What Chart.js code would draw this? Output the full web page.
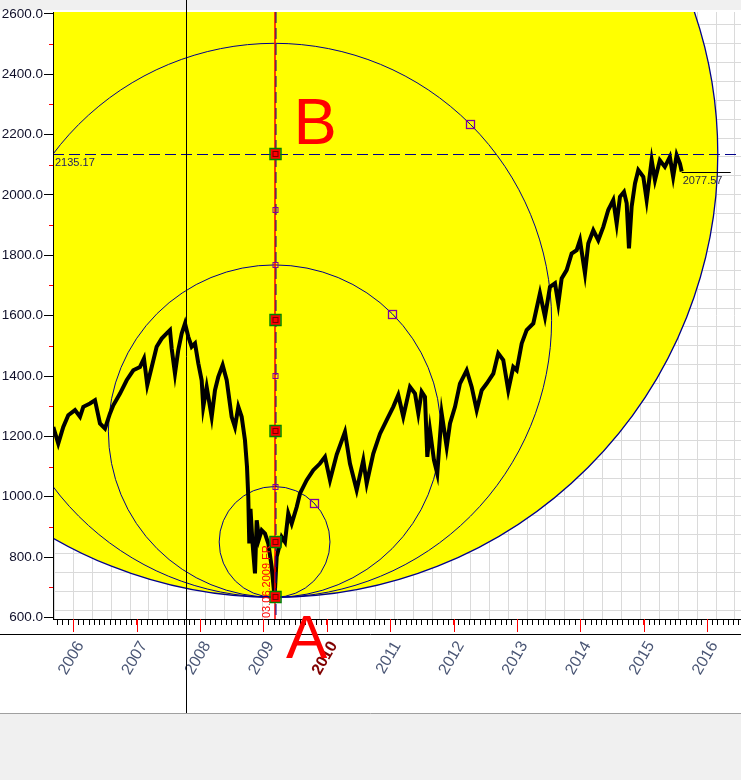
<!DOCTYPE html>
<html>
<head>
<meta charset="utf-8">
<title>S&P 500 circles</title>
<script src="https://cdn.jsdelivr.net/npm/chart.js@4.4.0/dist/chart.umd.min.js"></script>
<style>
  html, body { margin: 0; padding: 0; background: #fff; }
</style>
</head>
<body>
<canvas id="chart" width="741" height="780"></canvas>
<script>
  // daily closes (decimal years)
  const dates = [
    2005.685, 2005.763, 2005.842, 2005.921, 2006.027, 2006.106, 2006.158, 2006.263, 2006.342, 2006.421,
    2006.500, 2006.579, 2006.631, 2006.737, 2006.842, 2006.946, 2007.052, 2007.115, 2007.167, 2007.237,
    2007.315, 2007.394, 2007.473, 2007.525, 2007.552, 2007.604, 2007.656, 2007.710, 2007.762, 2007.814,
    2007.867, 2007.920, 2007.972, 2008.025, 2008.050, 2008.104, 2008.183, 2008.235, 2008.287, 2008.356,
    2008.420, 2008.498, 2008.550, 2008.603, 2008.656, 2008.708, 2008.740, 2008.760, 2008.776, 2008.795,
    2008.826, 2008.866, 2008.893, 2008.929, 2008.972, 2009.024, 2009.076, 2009.129, 2009.175, 2009.208,
    2009.287, 2009.339, 2009.391, 2009.445, 2009.524, 2009.576, 2009.681, 2009.785, 2009.891, 2009.970,
    2010.049, 2010.155, 2010.285, 2010.364, 2010.470, 2010.574, 2010.628, 2010.732, 2010.838, 2010.943,
    2011.047, 2011.126, 2011.205, 2011.311, 2011.390, 2011.442, 2011.495, 2011.547, 2011.584, 2011.626,
    2011.689, 2011.741, 2011.811, 2011.890, 2011.942, 2012.021, 2012.099, 2012.205, 2012.284, 2012.363,
    2012.442, 2012.521, 2012.625, 2012.703, 2012.782, 2012.861, 2012.940, 2012.994, 2013.073, 2013.151,
    2013.256, 2013.361, 2013.440, 2013.519, 2013.598, 2013.650, 2013.703, 2013.782, 2013.861, 2013.940,
    2013.992, 2014.071, 2014.123, 2014.202, 2014.281, 2014.360, 2014.438, 2014.517, 2014.571, 2014.623,
    2014.686, 2014.729, 2014.765, 2014.807, 2014.860, 2014.912, 2014.991, 2015.044, 2015.123, 2015.175,
    2015.252, 2015.331, 2015.410, 2015.462, 2015.517, 2015.569, 2015.597
  ];
  const closes = [
    1231, 1176, 1231, 1270, 1287, 1265, 1298, 1309, 1320, 1243,
    1226, 1276, 1303, 1342, 1386, 1419, 1430, 1458, 1370, 1430,
    1497, 1524, 1541, 1552, 1491, 1408, 1486, 1541, 1574, 1530,
    1497, 1508, 1442, 1386, 1298, 1364, 1265, 1353, 1397, 1436,
    1386, 1265, 1231, 1298, 1265, 1187, 1099, 1000, 845, 960,
    850, 746, 922, 860, 889, 878, 845, 768, 666.79, 801,
    867, 850, 945, 911, 966, 1011, 1055, 1088, 1110, 1132,
    1055, 1140, 1215, 1110, 1022, 1121, 1044, 1143, 1209, 1254,
    1298, 1337, 1265, 1364, 1342, 1276, 1348, 1331, 1132, 1221,
    1121, 1077, 1276, 1165, 1243, 1298, 1375, 1419, 1364, 1287,
    1353, 1375, 1408, 1475, 1453, 1353, 1430, 1419, 1508, 1552,
    1574, 1674, 1596, 1695, 1707, 1640, 1723, 1751, 1806, 1817,
    1850, 1740, 1839, 1883, 1850, 1894, 1950, 1983, 1905, 1994,
    2010, 1972, 1823, 1961, 2038, 2082, 2060, 1983, 2115, 2049,
    2115, 2093, 2126, 2060, 2132, 2104, 2077.57
  ];

  const yearLabels = ['2006', '2007', '2008', '2009', '2010', '2011', '2012', '2013', '2014', '2015', '2016'];
  const highlightYear = '2010';
  const yTickValues = [600, 700, 800, 900, 1000, 1100, 1200, 1300, 1400, 1500, 1600, 1700, 1800, 1900, 2000,
                       2100, 2200, 2300, 2400, 2500, 2600];

  // A = low of 03.06.2009, B = 2135.17, eighths between them
  const pointDate = 2009.175;
  const levelA = 666.79;
  const levelB = 2135.17;
  const bigMarkers = [666.79, 850.34, 1217.43, 1584.53, 2135.17];
  const smallMarkers = [1033.88, 1400.98, 1768.08, 1951.62];
  const circleCenters = [850.34, 1217.43, 1584.53];
  const crossDate = 2007.778;
  const lastDate = 2015.597, lastClose = 2077.57, lastLineEnd = 2016.37;

  const xMin = 2005.68, xMax = 2016.532;
  const yMin = 595, yMax = 2606;

  const monthTicks = [];
  for (let yr = 2005; yr <= 2016; yr++) {
    for (let m = 0; m < 12; m++) {
      const v = yr + m / 12;
      if (v >= xMin && v <= xMax) monthTicks.push(v);
    }
  }
  const gridXs = [];
  for (let n = -1; n < 40; n++) gridXs.push(2006 + n * 0.2982);
  const gridYs = [];
  for (let k = 0; k < 34; k++) gridYs.push(624.2 + k * 62.56);

  const isYear = v => Math.abs(v - Math.round(v)) < 1e-6;
  const isHighlight = ctx => ctx.tick && isYear(ctx.tick.value) && String(Math.round(ctx.tick.value)) === highlightYear;
  const FONT = "'Liberation Sans', Arial, sans-serif";

  function line(c, x1, y1, x2, y2) {
    c.beginPath(); c.moveTo(x1, y1); c.lineTo(x2, y2); c.stroke();
  }

  const drawings = {
    id: 'drawings',
    beforeDraw(chart) {
      const c = chart.ctx;
      c.save();
      c.fillStyle = '#ffffff'; c.fillRect(0, 0, 741, 780);
      c.fillStyle = '#f0f0f0'; c.fillRect(0, 0, 741, 10); c.fillRect(0, 713, 741, 67);
      c.lineWidth = 1;
      c.strokeStyle = '#a0a0a0'; line(c, 0, 713.5, 741, 713.5);
      c.strokeStyle = '#000000'; line(c, 0, 634.5, 741, 634.5);
      c.restore();
    },
    beforeDatasetsDraw(chart) {
      const {ctx: c, chartArea: a, scales: {x, y}} = chart;
      const cx = x.getPixelForValue(pointDate);
      const ay = y.getPixelForValue(levelA);
      const by = y.getPixelForValue(levelB);
      c.save();
      c.beginPath(); c.rect(a.left + 1, a.top, a.right - a.left - 1, a.bottom - a.top); c.clip();
      c.beginPath(); c.arc(cx, by, ay - by, 0, Math.PI * 2);
      c.fillStyle = '#ffff00'; c.fill();
      c.strokeStyle = '#00008b'; c.lineWidth = 1.3; c.stroke();
      c.lineWidth = 1;
      circleCenters.forEach(v => {
        const py = y.getPixelForValue(v);
        c.beginPath(); c.arc(cx, py, ay - py, 0, Math.PI * 2); c.stroke();
      });
      c.restore();
    },
    afterDatasetsDraw(chart) {
      const {ctx: c, chartArea: a, scales: {x, y}} = chart;
      const cx = Math.round(x.getPixelForValue(pointDate)) + 0.5;
      const by = Math.round(y.getPixelForValue(levelB)) + 0.5;
      const ay = y.getPixelForValue(levelA);
      c.save();
      c.beginPath(); c.rect(a.left + 1, a.top, a.right - a.left - 1, a.bottom - a.top); c.clip();
      // level B dashed
      c.strokeStyle = '#00008b'; c.lineWidth = 1; c.setLineDash([11, 5]);
      line(c, a.left, by, a.right, by);
      // vertical through A
      c.setLineDash([]); c.strokeStyle = '#ff0000'; c.lineWidth = 1.5;
      line(c, cx - 0.5, a.top, cx - 0.5, a.bottom);
      c.strokeStyle = '#00008b'; c.lineWidth = 1; c.setLineDash([11, 5]);
      line(c, cx + 0.5, a.top, cx + 0.5, a.bottom);
      c.setLineDash([]);
      // tail of last close
      const lx = x.getPixelForValue(lastDate), le = x.getPixelForValue(lastLineEnd);
      const ly = Math.round(y.getPixelForValue(lastClose)) + 0.5;
      c.strokeStyle = '#000'; line(c, lx, ly, le, ly);
      c.font = '11px ' + FONT; c.textBaseline = 'top'; c.textAlign = 'left';
      c.fillStyle = '#2a2a40'; c.fillText(lastClose.toFixed(2), lx + 1, ly + 3);
      c.fillStyle = '#1c1c64'; c.fillText(levelB.toFixed(2), a.left + 2, by + 3);
      // hollow squares at 45 degrees on inner circles
      c.strokeStyle = '#8000a0'; c.lineWidth = 1.3;
      circleCenters.forEach(v => {
        const py = y.getPixelForValue(v);
        const r = (ay - py) / Math.SQRT2;
        c.strokeRect(Math.round(x.getPixelForValue(pointDate) + r) - 4 + 0.5, Math.round(py - r) - 4 + 0.5, 8, 8);
      });
      // small markers
      c.lineWidth = 1;
      smallMarkers.forEach(v => {
        const py = Math.round(y.getPixelForValue(v));
        c.strokeRect(cx - 2.5, py - 2.5, 5, 5);
      });
      // big markers
      bigMarkers.forEach(v => {
        const py = Math.round(y.getPixelForValue(v));
        c.fillStyle = '#ff0000'; c.fillRect(cx - 5, py - 5, 10, 10);
        c.strokeStyle = '#008000'; c.lineWidth = 1.5; c.strokeRect(cx - 5.5, py - 5.5, 11, 11);
        c.strokeStyle = '#7a0000'; c.lineWidth = 1; c.strokeRect(cx - 2.5, py - 2.5, 5, 5);
      });
      c.restore();
    },
    afterDraw(chart) {
      const {ctx: c, chartArea: a, scales: {x, y}} = chart;
      c.save();
      c.lineWidth = 1;
      // red year ticks
      c.strokeStyle = '#ff0000';
      x.ticks.forEach(t => {
        if (!isYear(t.value)) return;
        const px = Math.round(x.getPixelForValue(t.value)) + 0.5;
        line(c, px, a.bottom, px, a.bottom + 13);
      });
      // red minor ticks on the price axis
      y.ticks.forEach(t => {
        if (t.value % 200 === 0) return;
        const py = Math.round(y.getPixelForValue(t.value)) + 0.5;
        line(c, a.left - 4, py, a.left, py);
      });
      // crosshair
      const hx = Math.round(x.getPixelForValue(crossDate)) + 0.5;
      c.strokeStyle = '#000'; line(c, hx, 0, hx, 713);
      // labels A / B and date
      const px = x.getPixelForValue(pointDate);
      const ay = y.getPixelForValue(levelA), by = y.getPixelForValue(levelB);
      c.fillStyle = '#ff0000';
      c.font = '62px ' + FONT; c.textAlign = 'center'; c.textBaseline = 'alphabetic';
      c.fillText('A', px + 32, ay + 61);
      c.font = '65px ' + FONT; c.textAlign = 'left';
      c.fillText('B', px + 19, by - 10);
      c.translate(px - 8, a.bottom - 1);
      c.rotate(-Math.PI / 2);
      c.font = '11px ' + FONT; c.textBaseline = 'middle';
      c.fillText('03.06.2009 FR', 0, 0);
      c.restore();
    }
  };

  new Chart(document.getElementById('chart'), {
    type: 'line',
    data: {
      datasets: [{
        data: dates.map((d, i) => ({x: d, y: closes[i]})),
        borderColor: '#000000',
        borderWidth: 4,
        pointRadius: 0,
        tension: 0,
        fill: false
      }]
    },
    options: {
      responsive: false,
      animation: false,
      events: [],
      layout: {padding: {top: 12, left: 0, right: 0, bottom: 0}},
      plugins: {legend: {display: false}, tooltip: {enabled: false}},
      scales: {
        x: {
          type: 'linear', position: 'bottom', min: xMin, max: xMax,
          afterBuildTicks: s => { s.ticks = monthTicks.map(v => ({value: v})); },
          afterFit: s => { s.height = 161; s.paddingLeft = 0; s.paddingRight = 0; },
          ticks: {
            autoSkip: false, minRotation: 60, maxRotation: 60, padding: 13, labelOffset: 7,
            callback: v => isYear(v) ? yearLabels[Math.round(v) - 2006] || '' : '',
            color: ctx => isHighlight(ctx) ? '#800000' : '#4a5675',
            font: ctx => ({family: FONT, size: 16, weight: isHighlight(ctx) ? 'bold' : 'normal'})
          },
          grid: {drawOnChartArea: false, tickLength: 6, tickWidth: 1,
                 tickColor: ctx => (ctx.tick && isYear(ctx.tick.value)) ? '#ff0000' : '#000000'},
          border: {color: '#000000', width: 1}
        },
        y: {
          type: 'linear', position: 'left', min: yMin, max: yMax,
          afterBuildTicks: s => { s.ticks = yTickValues.map(v => ({value: v})); },
          afterFit: s => { s.width = 53; s.paddingTop = 0; s.paddingBottom = 0; },
          ticks: {
            padding: 1, color: '#10102a', font: {family: FONT, size: 13.5},
            callback: v => v % 200 === 0 ? v.toFixed(1) : ''
          },
          grid: {drawOnChartArea: false, tickLength: 9, tickWidth: 1,
                 tickColor: ctx => (ctx.tick && ctx.tick.value % 200 === 0) ? '#000000' : 'rgba(0,0,0,0)'},
          border: {color: '#000000', width: 1}
        },
        xg: {
          type: 'linear', position: 'top', min: xMin, max: xMax,
          afterBuildTicks: s => { s.ticks = gridXs.filter(v => v > xMin && v < xMax).map(v => ({value: v})); },
          afterFit: s => { s.height = 0; s.paddingLeft = 0; s.paddingRight = 0; },
          ticks: {display: false},
          grid: {color: '#dadada', drawTicks: false, lineWidth: 1},
          border: {display: false}
        },
        yg: {
          type: 'linear', position: 'right', min: yMin, max: yMax,
          afterBuildTicks: s => { s.ticks = gridYs.filter(v => v > yMin && v < yMax).map(v => ({value: v})); },
          afterFit: s => { s.width = 0; s.paddingTop = 0; s.paddingBottom = 0; },
          ticks: {display: false},
          grid: {color: '#dadada', drawTicks: false, lineWidth: 1},
          border: {display: false}
        }
      }
    },
    plugins: [drawings]
  });
</script>
</body>
</html>
